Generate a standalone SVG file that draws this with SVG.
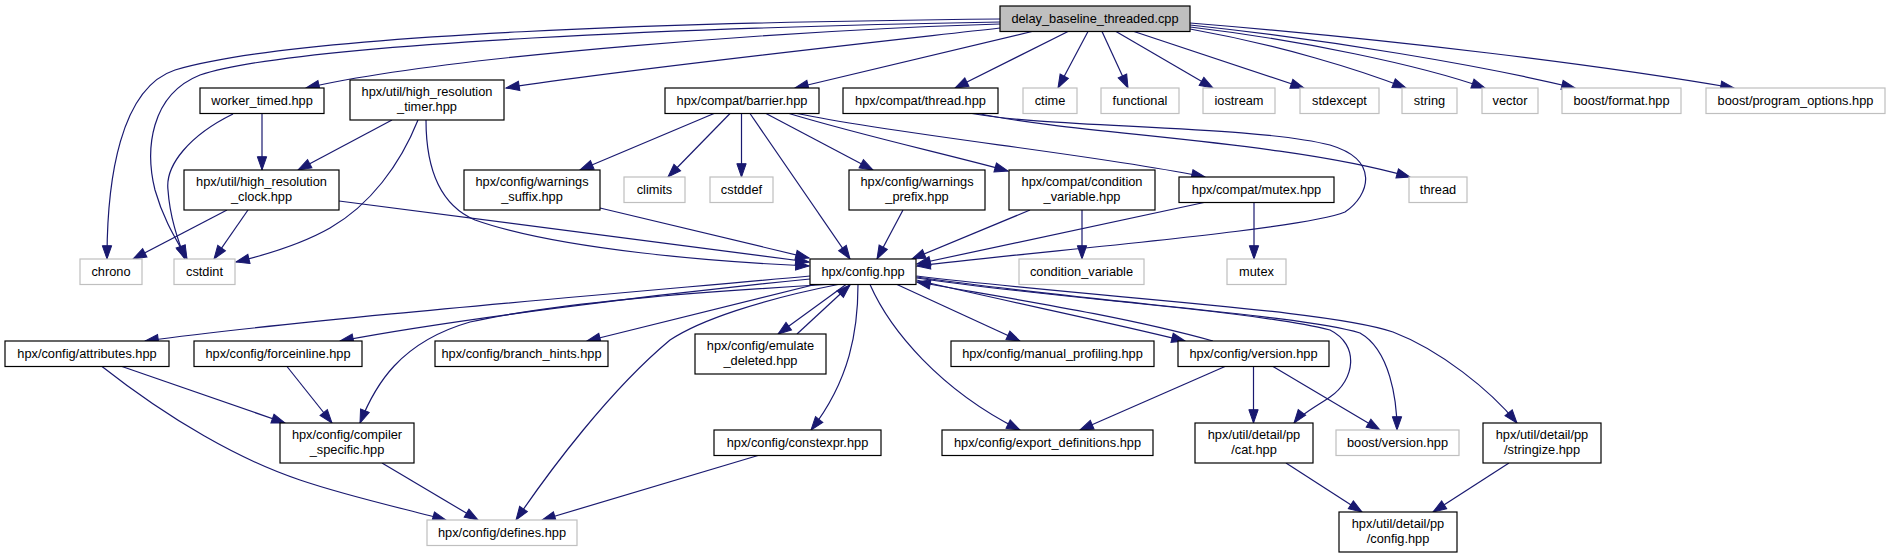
<svg xmlns="http://www.w3.org/2000/svg" width="1890" height="559" viewBox="0 0 1890 559">
<defs>
<marker id="a" markerUnits="userSpaceOnUse" markerWidth="14" markerHeight="10" refX="13.3" refY="4.67" orient="auto" overflow="visible">
<path d="M0,0 L13.3,4.67 L0,9.33 z" fill="#191970" stroke="#191970" stroke-width="1"/>
</marker>
<style>
.n rect{fill:#fff;stroke:#000;stroke-width:1.2}
.g rect{fill:#fff;stroke:#bfbfbf;stroke-width:1.2}
text{font-family:"Liberation Sans",Arial,Helvetica,sans-serif;font-size:12.8px;text-anchor:middle;fill:#000}
.e path{fill:none;stroke:#191970;stroke-width:1.2;marker-end:url(#a)}
</style>
</defs>
<rect width="1890" height="559" fill="#fff"/>
<g id="edges" class="e">
<path d="M1000,19 C700,22 300,33 175,70 C120,88 107,180 107,259"/>
<path d="M1000,22 C720,27 300,42 200,75 C150,95 145,150 155,190 C165,225 180,245 187,259"/>
<path d="M1000,24 C800,30 450,55 306,88"/>
<path d="M1000,28 C850,45 620,70 506,88"/>
<path d="M1032,31.5 L795,88"/>
<path d="M1068,31.5 L955,88"/>
<path d="M1088,31.5 L1058,88"/>
<path d="M1102,31.5 L1128,88"/>
<path d="M1116,31.5 L1213,88"/>
<path d="M1134,31.5 L1304,88"/>
<path d="M1190,29 C1280,45 1360,70 1406,88"/>
<path d="M1190,27 C1300,40 1420,65 1485,88"/>
<path d="M1190,25 C1330,40 1480,65 1575,88"/>
<path d="M1190,23 C1400,40 1600,65 1734,88"/>
<path d="M233,114 C190,135 165,165 168,190 C170,220 180,245 185,259"/>
<path d="M262,113.5 L262,170"/>
<path d="M392,120 L298,170"/>
<path d="M418,120 C400,165 370,205 330,228 C300,245 265,255 236,262"/>
<path d="M426,120 C426,170 440,205 475,220 C560,250 720,262 809,266"/>
<path d="M227,210 L133,259"/>
<path d="M248,210 L214,259"/>
<path d="M339,201 L809,262"/>
<path d="M600,208 L809,258"/>
<path d="M714,113.5 L580,170"/>
<path d="M730,113.5 L668,177"/>
<path d="M741.5,113.5 L741.5,177"/>
<path d="M750,113.5 L850,259"/>
<path d="M766,113.5 L873,170"/>
<path d="M789,113.5 C860,135 950,155 1008,171"/>
<path d="M797,113.5 C900,135 1100,155 1205,177"/>
<path d="M972,113.5 C1050,128 1250,125 1330,145 C1380,160 1370,195 1345,212 C1300,230 1050,250 917,266"/>
<path d="M978,113.5 C1080,135 1280,140 1410,177"/>
<path d="M903,210 L877,259"/>
<path d="M1030,210 L912,259"/>
<path d="M1082,210 L1082,259"/>
<path d="M1204,202.5 L917,264"/>
<path d="M1254,202.5 L1254,259"/>
<path d="M810,276 C600,295 300,320 145,341"/>
<path d="M810,279 C650,295 450,320 340,341"/>
<path d="M826,284.5 C700,292 560,302 470,322 C400,342 375,385 360,423"/>
<path d="M815,284.5 L587,341"/>
<path d="M838,284.5 C760,300 700,320 670,340 C610,390 550,470 516,520"/>
<path d="M846,284.5 L778,334"/>
<path d="M797,334 L850,285"/>
<path d="M858,284.5 C858,330 850,380 811,430"/>
<path d="M870,284.5 C890,330 940,390 1020,430"/>
<path d="M897,284.5 L1020,341"/>
<path d="M916.5,280 C1000,300 1100,320 1185,341"/>
<path d="M1213,341 C1120,315 1000,297 917,282"/>
<path d="M916.5,278 C1050,298 1250,310 1330,330 C1360,345 1355,380 1330,397 C1315,407 1300,415 1294,423"/>
<path d="M916.5,277 C1100,303 1300,315 1360,333 C1390,350 1397,400 1397,430"/>
<path d="M916.5,276 C1100,298 1330,310 1393,332 C1440,350 1490,390 1517,423"/>
<path d="M1225,366.5 L1080,430"/>
<path d="M1253.5,366.5 L1253.5,423"/>
<path d="M1273,366.5 L1380,430"/>
<path d="M122,366.5 L285,423"/>
<path d="M102,366.5 C170,420 240,460 300,480 C350,497 410,510 446,520"/>
<path d="M287,366.5 L332,423"/>
<path d="M382,463 L478,520"/>
<path d="M758,455.5 L542,520"/>
<path d="M1286,463 L1362,512"/>
<path d="M1509,463 L1433,512"/>
</g>
<g id="root" class="n"><rect x="1000" y="6" width="190" height="25.5" style="fill:#bfbfbf"/><text x="1095" y="23.4">delay_baseline_threaded.cpp</text></g>
<g id="worker_timed" class="n"><rect x="200" y="88" width="124" height="25.5"/><text x="262" y="105.4">worker_timed.hpp</text></g>
<g id="high_resolution_timer" class="n"><rect x="350" y="80" width="154" height="40"/><text x="427" y="96">hpx/util/high_resolution</text><text x="427" y="110.7">_timer.hpp</text></g>
<g id="compat_barrier" class="n"><rect x="665" y="88" width="154" height="25.5"/><text x="742" y="105.4">hpx/compat/barrier.hpp</text></g>
<g id="compat_thread" class="n"><rect x="843" y="88" width="155" height="25.5"/><text x="920.5" y="105.4">hpx/compat/thread.hpp</text></g>
<g id="ctime" class="g"><rect x="1023" y="88" width="54" height="25.5"/><text x="1050" y="105.4">ctime</text></g>
<g id="functional" class="g"><rect x="1101" y="88" width="78" height="25.5"/><text x="1140" y="105.4">functional</text></g>
<g id="iostream" class="g"><rect x="1203" y="88" width="72" height="25.5"/><text x="1239" y="105.4">iostream</text></g>
<g id="stdexcept" class="g"><rect x="1300" y="88" width="79" height="25.5"/><text x="1339.5" y="105.4">stdexcept</text></g>
<g id="string" class="g"><rect x="1402" y="88" width="55" height="25.5"/><text x="1429.5" y="105.4">string</text></g>
<g id="vector" class="g"><rect x="1482" y="88" width="56" height="25.5"/><text x="1510" y="105.4">vector</text></g>
<g id="boost_format" class="g"><rect x="1562" y="88" width="119" height="25.5"/><text x="1621.5" y="105.4">boost/format.hpp</text></g>
<g id="boost_program_options" class="g"><rect x="1706" y="88" width="179" height="25.5"/><text x="1795.5" y="105.4">boost/program_options.hpp</text></g>
<g id="high_resolution_clock" class="n"><rect x="184" y="170" width="155" height="40"/><text x="261.5" y="186">hpx/util/high_resolution</text><text x="261.5" y="200.7">_clock.hpp</text></g>
<g id="warnings_suffix" class="n"><rect x="464" y="170" width="136" height="40"/><text x="532" y="186">hpx/config/warnings</text><text x="532" y="200.7">_suffix.hpp</text></g>
<g id="climits" class="g"><rect x="624" y="177" width="61" height="25.5"/><text x="654.5" y="194.4">climits</text></g>
<g id="cstddef" class="g"><rect x="710" y="177" width="63" height="25.5"/><text x="741.5" y="194.4">cstddef</text></g>
<g id="warnings_prefix" class="n"><rect x="849" y="170" width="136" height="40"/><text x="917" y="186">hpx/config/warnings</text><text x="917" y="200.7">_prefix.hpp</text></g>
<g id="compat_condition_variable" class="n"><rect x="1009" y="170" width="146" height="40"/><text x="1082" y="186">hpx/compat/condition</text><text x="1082" y="200.7">_variable.hpp</text></g>
<g id="compat_mutex" class="n"><rect x="1179" y="177" width="155" height="25.5"/><text x="1256.5" y="194.4">hpx/compat/mutex.hpp</text></g>
<g id="thread" class="g"><rect x="1409" y="177" width="58" height="25.5"/><text x="1438" y="194.4">thread</text></g>
<g id="chrono" class="g"><rect x="80" y="259" width="62" height="25.5"/><text x="111" y="276.4">chrono</text></g>
<g id="cstdint" class="g"><rect x="174" y="259" width="61" height="25.5"/><text x="204.5" y="276.4">cstdint</text></g>
<g id="config" class="n"><rect x="810" y="259" width="106" height="25.5"/><text x="863" y="276.4">hpx/config.hpp</text></g>
<g id="condition_variable" class="g"><rect x="1019" y="259" width="125" height="25.5"/><text x="1081.5" y="276.4">condition_variable</text></g>
<g id="mutex" class="g"><rect x="1227" y="259" width="59" height="25.5"/><text x="1256.5" y="276.4">mutex</text></g>
<g id="attributes" class="n"><rect x="5" y="341" width="164" height="25.5"/><text x="87" y="358.4">hpx/config/attributes.hpp</text></g>
<g id="forceinline" class="n"><rect x="194" y="341" width="168" height="25.5"/><text x="278" y="358.4">hpx/config/forceinline.hpp</text></g>
<g id="branch_hints" class="n"><rect x="435" y="341" width="173" height="25.5"/><text x="521.5" y="358.4">hpx/config/branch_hints.hpp</text></g>
<g id="emulate_deleted" class="n"><rect x="695" y="334" width="131" height="40"/><text x="760.5" y="350">hpx/config/emulate</text><text x="760.5" y="364.7">_deleted.hpp</text></g>
<g id="manual_profiling" class="n"><rect x="951" y="341" width="203" height="25.5"/><text x="1052.5" y="358.4">hpx/config/manual_profiling.hpp</text></g>
<g id="config_version" class="n"><rect x="1178" y="341" width="151" height="25.5"/><text x="1253.5" y="358.4">hpx/config/version.hpp</text></g>
<g id="compiler_specific" class="n"><rect x="280" y="423" width="134" height="40"/><text x="347" y="439">hpx/config/compiler</text><text x="347" y="453.7">_specific.hpp</text></g>
<g id="constexpr" class="n"><rect x="714" y="430" width="167" height="25.5"/><text x="797.5" y="447.4">hpx/config/constexpr.hpp</text></g>
<g id="export_definitions" class="n"><rect x="942" y="430" width="211" height="25.5"/><text x="1047.5" y="447.4">hpx/config/export_definitions.hpp</text></g>
<g id="pp_cat" class="n"><rect x="1195" y="423" width="118" height="40"/><text x="1254" y="439">hpx/util/detail/pp</text><text x="1254" y="453.7">/cat.hpp</text></g>
<g id="boost_version" class="g"><rect x="1336" y="430" width="123" height="25.5"/><text x="1397.5" y="447.4">boost/version.hpp</text></g>
<g id="pp_stringize" class="n"><rect x="1483" y="423" width="118" height="40"/><text x="1542" y="439">hpx/util/detail/pp</text><text x="1542" y="453.7">/stringize.hpp</text></g>
<g id="defines" class="g"><rect x="427" y="520" width="150" height="25.5"/><text x="502" y="537.4">hpx/config/defines.hpp</text></g>
<g id="pp_config" class="n"><rect x="1339" y="512" width="118" height="40"/><text x="1398" y="528">hpx/util/detail/pp</text><text x="1398" y="542.7">/config.hpp</text></g>
</svg>
